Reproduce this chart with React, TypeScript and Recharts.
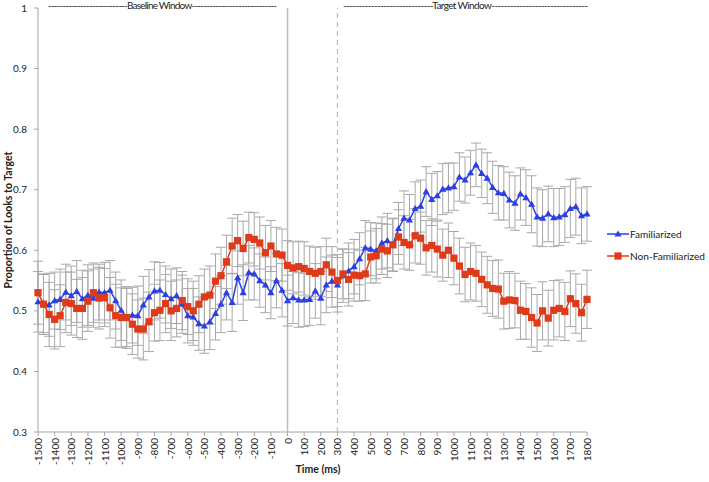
import {
  ErrorBar,
  Line,
  LineChart,
  ReferenceLine,
  XAxis,
  YAxis,
} from "recharts";

const times = [
  -1500, -1467, -1433, -1400, -1367, -1333, -1300, -1267, -1233, -1200,
  -1167, -1133, -1100, -1067, -1033, -1000, -967, -933, -900, -867,
  -833, -800, -767, -733, -700, -667, -633, -600, -567, -533,
  -500, -467, -433, -400, -367, -333, -300, -267, -233, -200,
  -167, -133, -100, -67, -33, 0, 33, 67, 100, 133,
  167, 200, 233, 267, 300, 333, 367, 400, 433, 467,
  500, 533, 567, 600, 633, 667, 700, 733, 767, 800,
  833, 867, 900, 933, 967, 1000, 1033, 1067, 1100, 1133,
  1167, 1200, 1233, 1267, 1300, 1333, 1367, 1400, 1433, 1467,
  1500, 1533, 1567, 1600, 1633, 1667, 1700, 1733, 1767, 1800,
];

const familiarized = [
  0.515, 0.512, 0.51, 0.517, 0.519, 0.531, 0.525, 0.532, 0.52, 0.526,
  0.521, 0.531, 0.53, 0.534, 0.517, 0.501, 0.489, 0.493, 0.492, 0.51,
  0.523, 0.533, 0.534, 0.527, 0.52, 0.525, 0.511, 0.492, 0.49, 0.479,
  0.475, 0.482, 0.496, 0.511, 0.53, 0.514, 0.555, 0.53, 0.563, 0.561,
  0.55, 0.543, 0.53, 0.55, 0.534, 0.517, 0.522, 0.518, 0.518, 0.519,
  0.533, 0.521, 0.543, 0.549, 0.543, 0.558, 0.566, 0.573, 0.586, 0.604,
  0.602, 0.599, 0.612, 0.616, 0.609, 0.636, 0.653, 0.65, 0.669, 0.673,
  0.697, 0.684, 0.69, 0.701, 0.703, 0.705, 0.721, 0.716, 0.728, 0.741,
  0.727, 0.719, 0.704, 0.695, 0.694, 0.683, 0.678, 0.693, 0.687, 0.676,
  0.655, 0.653, 0.66, 0.654, 0.655, 0.659, 0.669, 0.672, 0.657, 0.66,
];

const familiarizedErr = [
  0.05, 0.048, 0.052, 0.047, 0.05, 0.046, 0.049, 0.051, 0.047, 0.05,
  0.048, 0.046, 0.05, 0.049, 0.047, 0.05, 0.048, 0.046, 0.049, 0.047,
  0.045, 0.048, 0.046, 0.047, 0.049, 0.046, 0.048, 0.045, 0.047, 0.044,
  0.045, 0.046, 0.044, 0.047, 0.045, 0.048, 0.044, 0.046, 0.045, 0.043,
  0.044, 0.046, 0.043, 0.045, 0.044, 0.042, 0.043, 0.045, 0.044, 0.043,
  0.045, 0.044, 0.046, 0.043, 0.045, 0.044, 0.046, 0.045, 0.043, 0.045,
  0.044, 0.046, 0.043, 0.045, 0.044, 0.043, 0.045, 0.042, 0.044, 0.043,
  0.041, 0.043, 0.04, 0.042, 0.041, 0.039, 0.04, 0.038, 0.037, 0.036,
  0.04, 0.042, 0.043, 0.045, 0.044, 0.046, 0.045, 0.043, 0.046, 0.047,
  0.048, 0.047, 0.046, 0.048, 0.047, 0.046, 0.048, 0.047, 0.046, 0.045,
];

const nonFamiliarized = [
  0.53, 0.511, 0.494, 0.486, 0.492, 0.514, 0.512, 0.504, 0.504, 0.516,
  0.53, 0.521, 0.522, 0.505, 0.492, 0.489, 0.489, 0.478, 0.47, 0.47,
  0.482, 0.497, 0.501, 0.512, 0.5, 0.504, 0.517, 0.507, 0.5, 0.511,
  0.523, 0.526, 0.549, 0.558, 0.581, 0.607, 0.616, 0.603, 0.621, 0.618,
  0.612, 0.596, 0.607, 0.594, 0.592, 0.575, 0.571, 0.573, 0.57, 0.565,
  0.562, 0.565, 0.576, 0.564, 0.55, 0.561, 0.552, 0.559, 0.558, 0.561,
  0.589, 0.591, 0.602, 0.599, 0.609, 0.622, 0.613, 0.609, 0.624, 0.62,
  0.604, 0.608, 0.602, 0.592, 0.6, 0.587, 0.574, 0.56, 0.565, 0.562,
  0.552, 0.543, 0.537, 0.536, 0.516, 0.518, 0.517, 0.501, 0.499, 0.489,
  0.48, 0.5, 0.488, 0.501, 0.504, 0.499, 0.52, 0.512, 0.497, 0.519,
];

const nonFamiliarizedErr = [
  0.052, 0.05, 0.053, 0.049, 0.051, 0.05, 0.052, 0.048, 0.051, 0.05,
  0.049, 0.051, 0.048, 0.05, 0.052, 0.049, 0.051, 0.05, 0.048, 0.051,
  0.049, 0.047, 0.05, 0.048, 0.049, 0.047, 0.048, 0.046, 0.049, 0.047,
  0.046, 0.048, 0.045, 0.047, 0.044, 0.046, 0.043, 0.045, 0.042, 0.044,
  0.043, 0.045, 0.042, 0.044, 0.043, 0.041, 0.043, 0.042, 0.044, 0.042,
  0.043, 0.041, 0.044, 0.042, 0.043, 0.041, 0.044, 0.043, 0.042, 0.044,
  0.043, 0.045, 0.042, 0.044, 0.043, 0.045, 0.044, 0.042, 0.045, 0.043,
  0.045, 0.044, 0.046, 0.043, 0.045, 0.044, 0.046, 0.045, 0.047, 0.046,
  0.045, 0.047, 0.046, 0.048, 0.046, 0.047, 0.045, 0.048, 0.046, 0.049,
  0.047, 0.048, 0.046, 0.049, 0.047, 0.048, 0.046, 0.049, 0.047, 0.048,
];

const xTicks = [
  -1500, -1400, -1300, -1200, -1100, -1000, -900, -800, -700, -600, -500,
  -400, -300, -200, -100, 0, 100, 200, 300, 400, 500, 600, 700, 800, 900,
  1000, 1100, 1200, 1300, 1400, 1500, 1600, 1700, 1800,
];
const yTicks = [0.3, 0.4, 0.5, 0.6, 0.7, 0.8, 0.9, 1];

const BLUE = "#2b3fe2";
const RED = "#de3b1b";
const FONT = "Lato, 'Open Sans', sans-serif";

const data = times.map((t, i) => ({
  t,
  fam: familiarized[i],
  famErr: familiarizedErr[i],
  non: nonFamiliarized[i],
  nonErr: nonFamiliarizedErr[i],
}));

function XTick({ x, y, payload }: any) {
  return (
    <text
      x={x}
      y={y}
      transform={`rotate(-90 ${x} ${y})`}
      textAnchor="end"
      dominantBaseline="central"
      fontSize={10}
      fontFamily={FONT}
      fill="#222"
    >
      {payload.value}
    </text>
  );
}

function TriangleDot({ cx, cy, index }: any) {
  if (cx == null || cy == null) return <g key={index} />;
  return (
    <path
      key={index}
      d={`M${cx},${cy - 3.6} L${cx + 3.6},${cy + 2.6} L${cx - 3.6},${cy + 2.6} Z`}
      fill={BLUE}
    />
  );
}

function SquareDot({ cx, cy, index }: any) {
  if (cx == null || cy == null) return <g key={index} />;
  return <rect key={index} x={cx - 3.6} y={cy - 3.6} width={7.2} height={7.2} fill={RED} />;
}

export default function App() {
  return (
    <div
      style={{
        position: "absolute",
        left: 0,
        top: 0,
        width: 709,
        height: 482,
        background: "#fff",
        fontFamily: FONT,
      }}
    >
      <LineChart width={709} height={482} data={data} margin={{ top: 8, right: 122, left: 0, bottom: 0 }}>
        <XAxis
          dataKey="t"
          type="number"
          domain={[-1500, 1800]}
          ticks={xTicks}
          interval={0}
          height={50}
          tick={<XTick />}
          tickSize={4}
          stroke="#a6a6a6"
        />
        <YAxis
          type="number"
          domain={[0.3, 1]}
          ticks={yTicks}
          width={38}
          tickSize={4}
          tickMargin={7}
          stroke="#a6a6a6"
          tick={{ fill: "#222", fontSize: 10, fontFamily: FONT }}
          tickFormatter={(v: number) => (v === 1 ? "1" : v.toFixed(1))}
        />
        <ReferenceLine x={0} stroke="#bdbdbd" strokeWidth={1.5} />
        <ReferenceLine x={300} stroke="#bdbdbd" strokeWidth={1.2} strokeDasharray="5 4" />
        <Line
          dataKey="fam"
          stroke={BLUE}
          strokeWidth={1.5}
          dot={(p: any) => <TriangleDot {...p} key={p.index} />}
          isAnimationActive={false}
        >
          <ErrorBar dataKey="famErr" width={5} strokeWidth={1} stroke="#a9a9a9" direction="y" />
        </Line>
        <Line
          dataKey="non"
          stroke={RED}
          strokeWidth={1.5}
          dot={(p: any) => <SquareDot {...p} key={p.index} />}
          isAnimationActive={false}
        >
          <ErrorBar dataKey="nonErr" width={5} strokeWidth={1} stroke="#a9a9a9" direction="y" />
        </Line>
      </LineChart>

      <svg
        width={709}
        height={482}
        style={{ position: "absolute", left: 0, top: 0, pointerEvents: "none" }}
        fontFamily={FONT}
      >
        <text x={48} y={9} fontSize={10} fill="#222" textLength={229} lengthAdjust="spacing">
          ---------------------------Baseline Window-----------------------------
        </text>
        <text x={343} y={9} fontSize={10} fill="#222" textLength={245} lengthAdjust="spacing">
          -----------------------------Target Window-------------------------------
        </text>
        <text x={318} y={473} fontSize={10.5} fontWeight="bold" fill="#222" textAnchor="middle">
          Time (ms)
        </text>
        <text
          x={8}
          y={220}
          fontSize={10.5}
          fontWeight="bold"
          fill="#222"
          textAnchor="middle"
          dominantBaseline="central"
          transform="rotate(-90 8 220)"
        >
          Proportion of Looks to Target
        </text>

        <line x1={607} y1={234} x2={629} y2={234} stroke={BLUE} strokeWidth={1.5} />
        <path d="M618,230.4 L621.6,236.6 L614.4,236.6 Z" fill={BLUE} />
        <text x={630} y={234} fontSize={10} fill="#222" dominantBaseline="central">
          Familiarized
        </text>
        <line x1={607} y1={256} x2={629} y2={256} stroke={RED} strokeWidth={1.5} />
        <rect x={614.4} y={252.4} width={7.2} height={7.2} fill={RED} />
        <text x={630} y={256} fontSize={10} fill="#222" dominantBaseline="central" textLength={75} lengthAdjust="spacingAndGlyphs">
          Non-Familiarized
        </text>
      </svg>
    </div>
  );
}
